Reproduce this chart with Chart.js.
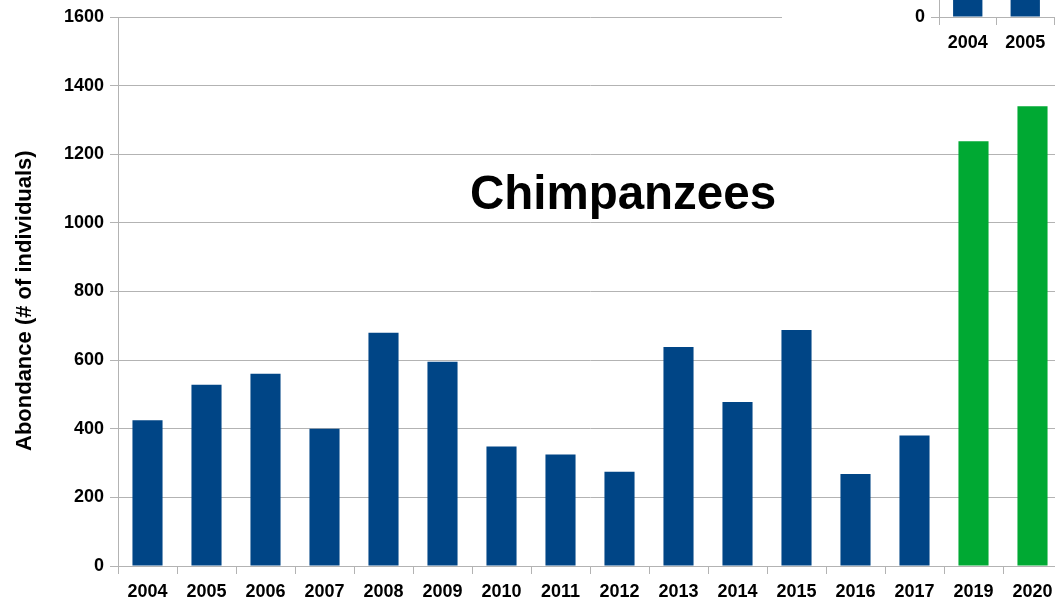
<!DOCTYPE html>
<html>
<head>
<meta charset="utf-8">
<script src="https://cdn.jsdelivr.net/npm/chart.js@4/dist/chart.umd.min.js"></script>
<style>
  html, body { margin: 0; padding: 0; background: #fff; overflow: hidden; }
  body { width: 1055px; height: 600px; position: relative; }
  #main { position: absolute; left: 0; top: 0; width: 1062px; height: 600px; }
  #titre {
    position: absolute; left: 623px; top: 165px; transform: translateX(-50%);
    font-family: "Liberation Sans", Arial, sans-serif; font-weight: bold;
    font-size: 47.5px; color: #000; white-space: nowrap; line-height: 56px;
  }
  #encart { position: absolute; left: 782px; top: -300px; width: 276px; height: 364px; background: #fff; }
</style>
</head>
<body>
<div id="main"><canvas id="grafico"></canvas></div>
<div id="titre">Chimpanzees</div>
<div id="encart"><canvas id="grafico2"></canvas></div>
<script>
// données
const annees = ['2004','2005','2006','2007','2008','2009','2010','2011','2012','2013','2014','2015','2016','2017','2019','2020']
const abondance = [425, 528, 560, 400, 680, 595, 348, 325, 275, 638, 478, 688, 268, 380, 1238, 1340]
const couleurs = ['#004586','#004586','#004586','#004586','#004586','#004586','#004586','#004586','#004586','#004586','#004586','#004586','#004586','#004586','#00a933','#00a933']
const yTicks = [0, 200, 400, 600, 800, 1000, 1200, 1400, 1600]

// petit graphique coupé en haut à droite
const annees2 = ['2004','2005']
const abondance2 = [425, 528]

const police = { family: '"Liberation Sans", Arial, sans-serif', weight: 'bold', size: 18 }
const gris = '#b3b3b3'

Chart.defaults.font.family = police.family
Chart.defaults.color = '#000'

const drawChart = (contenedor, labels, data, colors, opts) => {
    return new Chart(contenedor, {
        type: 'bar',
        data: {
            labels: labels,
            datasets: [{
                data: data,
                backgroundColor: colors,
                borderWidth: 0,
                barPercentage: 0.51,
                categoryPercentage: 1
            }]
        },
        options: {
            responsive: true,
            maintainAspectRatio: false,
            animation: false,
            layout: { padding: opts.padding },
            plugins: { legend: { display: false }, tooltip: { enabled: false } },
            scales: {
                x: {
                    grid: { offset: true, drawOnChartArea: false, drawTicks: true, tickLength: 8, color: gris },
                    border: { color: gris },
                    ticks: { font: police, padding: 7, maxRotation: 0, autoSkip: false },
                    afterFit: (s) => { s.height = opts.xHeight }
                },
                y: {
                    min: 0,
                    max: opts.max,
                    afterBuildTicks: (s) => { s.ticks = opts.ticks.map(v => ({ value: v })) },
                    grid: { drawOnChartArea: opts.gridY, tickLength: 8, color: gris },
                    border: { color: gris },
                    ticks: { font: police, padding: 6, callback: (v) => String(v) },
                    title: opts.title,
                    afterFit: (s) => { s.width = opts.yWidth }
                }
            }
        }
    })
}

const grafico = drawChart(document.getElementById('grafico'), annees, abondance, couleurs, {
    padding: { top: 17, right: 0, left: 0, bottom: 0 },
    xHeight: 34,
    yWidth: 118,
    max: 1600,
    ticks: yTicks,
    gridY: true,
    // espaces à la fin pour descendre un peu le texte
    title: { display: true, text: 'Abondance (# of individuals)   ', font: { family: police.family, weight: 'bold', size: 22 }, padding: { top: 12, bottom: 0 } }
})

const grafico2 = drawChart(document.getElementById('grafico2'), annees2, abondance2, ['#004586','#004586'], {
    padding: { top: 10, right: 4, left: 0, bottom: 0 },
    xHeight: 47,
    yWidth: 157,
    max: 600,
    ticks: [0],
    gridY: false,
    title: { display: false }
})
</script>
</body>
</html>
